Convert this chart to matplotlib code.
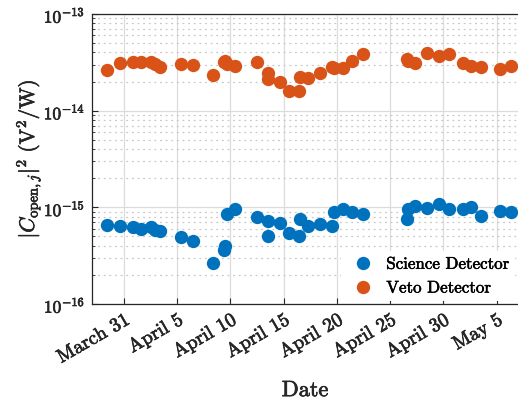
import matplotlib
matplotlib.use('Agg')
from matplotlib import pyplot as plt
from matplotlib.ticker import NullFormatter, FuncFormatter
import matplotlib.dates as mdates
import matplotlib.patheffects as pe
import pandas as pd

# measurement times
dates = ['2023-03-29 10:00', '2023-03-30 15:00', '2023-03-31 20:00', '2023-04-01 14:00',
         '2023-04-02 13:00', '2023-04-02 22:00', '2023-04-03 09:00', '2023-04-05 08:00',
         '2023-04-06 11:00', '2023-04-08 08:00', '2023-04-09 09:00', '2023-04-09 11:00',
         '2023-04-09 16:00', '2023-04-10 10:00', '2023-04-12 11:00', '2023-04-13 12:00',
         '2023-04-13 13:00', '2023-04-14 15:00', '2023-04-15 13:00', '2023-04-16 10:00',
         '2023-04-16 12:00', '2023-04-17 06:00', '2023-04-18 09:00', '2023-04-19 12:00',
         '2023-04-19 17:00', '2023-04-20 13:00', '2023-04-21 11:00', '2023-04-22 10:00',
         '2023-04-26 13:00', '2023-04-26 15:00', '2023-04-27 09:00', '2023-04-28 10:00',
         '2023-04-29 15:00', '2023-04-30 13:00', '2023-05-01 19:00', '2023-05-02 13:00',
         '2023-05-03 13:00', '2023-05-05 08:00', '2023-05-06 09:00']

# |C_open|^2 for the science channel (V^2/W)
science = [6.56e-16, 6.41e-16, 6.26e-16, 5.97e-16, 6.26e-16, 5.83e-16, 5.69e-16, 4.93e-16,
           4.49e-16, 2.66e-16, 3.62e-16, 3.98e-16, 8.53e-16, 9.62e-16, 7.94e-16, 7.22e-16,
           5.06e-16, 6.89e-16, 5.43e-16, 5.06e-16, 7.57e-16, 6.41e-16, 6.73e-16, 6.41e-16,
           8.95e-16, 9.62e-16, 8.95e-16, 8.53e-16, 7.57e-16, 9.62e-16, 1.03e-15, 9.85e-16,
           1.08e-15, 9.62e-16, 9.62e-16, 1.01e-15, 8.13e-16, 9.16e-16, 8.95e-16]

# |C_open|^2 for the veto channel (V^2/W)
veto = [2.63e-14, 3.11e-14, 3.19e-14, 3.19e-14, 3.19e-14, 3.04e-14, 2.83e-14, 3.04e-14,
        2.97e-14, 2.34e-14, 3.19e-14, 3.27e-14, 3.04e-14, 2.90e-14, 3.19e-14, 2.45e-14,
        2.13e-14, 1.98e-14, 1.60e-14, 1.60e-14, 2.23e-14, 2.18e-14, 2.45e-14, 2.83e-14,
        2.76e-14, 2.76e-14, 3.27e-14, 3.86e-14, 3.42e-14, 3.27e-14, 3.11e-14, 3.95e-14,
        3.68e-14, 3.86e-14, 3.11e-14, 2.90e-14, 2.83e-14, 2.70e-14, 2.90e-14]

tick_dates = ['2023-03-31', '2023-04-05', '2023-04-10', '2023-04-15',
              '2023-04-20', '2023-04-25', '2023-04-30', '2023-05-05']
decades = [-16, -15, -14, -13]

plt.rcParams['font.family'] = 'cmr10'
plt.rcParams['mathtext.fontset'] = 'cm'
plt.rcParams['axes.formatter.use_mathtext'] = True

# slightly heavier strokes for all text
ink = [pe.withStroke(linewidth=0.5, foreground='#262626')]

t = pd.to_datetime(dates)

fig = plt.figure(figsize=(5.18, 4.02), dpi=100)
ax = fig.add_axes([92 / 518, 97 / 402, 1 - 92 / 518, 290 / 402])

ax.plot(t, science, 'o', color='#0072BD', markersize=9.6, markeredgewidth=0,
        label='Science Detector', zorder=3)
ax.plot(t, veto, 'o', color='#D95319', markersize=9.6, markeredgewidth=0,
        label='Veto Detector', zorder=3)

ax.set_yscale('log')
ax.set_ylim(10.0 ** decades[0], 10.0 ** decades[-1])
ax.set_xlim(pd.Timestamp('2023-03-28'), pd.Timestamp('2023-05-07'))

# explicit decade ticks so nothing is placed outside the axes
ax.set_yticks([10.0 ** d for d in decades])
ax.set_yticklabels([r'$10^{%d}$' % d for d in decades])
ax.set_yticks([m * 10.0 ** d for d in decades[:-1] for m in range(2, 10)], minor=True)
ax.yaxis.set_minor_formatter(NullFormatter())

ax.set_xticks(pd.to_datetime(tick_dates))
ax.xaxis.set_major_formatter(FuncFormatter(
    lambda x, pos: mdates.num2date(x).strftime('%B ') + str(mdates.num2date(x).day)))

ax.grid(True, which='major', color='#dcdcdc', linewidth=0.9, linestyle='-')
ax.grid(True, which='minor', axis='y', color='#c8c8c8', linewidth=0.9, linestyle=(0, (1.5, 3)))
ax.set_axisbelow(True)

ax.tick_params(which='both', direction='in', colors='#262626')
ax.tick_params(which='major', length=4)
ax.tick_params(which='minor', length=2)
ax.tick_params(axis='y', labelsize=12.5, pad=5)
ax.tick_params(axis='x', labelsize=14, pad=5)
plt.setp(ax.get_xticklabels(), rotation=30, ha='right', va='top', rotation_mode='anchor',
         path_effects=ink)
plt.setp(ax.get_yticklabels(), path_effects=ink)

ax.spines['right'].set_visible(False)
for s in ['left', 'top', 'bottom']:
    ax.spines[s].set_color('#262626')
    ax.spines[s].set_linewidth(0.9)

ax.set_xlabel('Date', fontsize=16, labelpad=10, color='#262626', path_effects=ink)
ax.set_ylabel(r'$|C_{\mathrm{open},j}|^2\ (\mathrm{V}^2/\mathrm{W})$', fontsize=15,
              labelpad=0, color='#262626', path_effects=ink)

leg = ax.legend(loc='lower right', fontsize=12.2, frameon=True, facecolor='white',
                edgecolor='none', framealpha=1, handletextpad=0.35, borderpad=0.3,
                labelspacing=0.5, borderaxespad=0.2)
for txt in leg.get_texts():
    txt.set_path_effects([pe.withStroke(linewidth=0.4, foreground='black')])

plt.savefig('out.png', dpi=100)
plt.close()
